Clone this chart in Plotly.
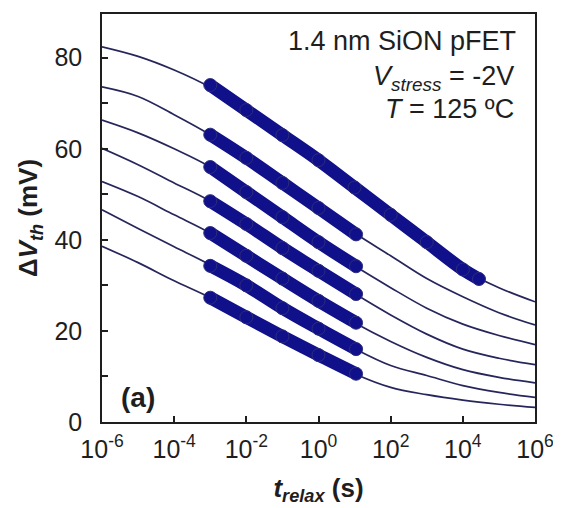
import plotly.graph_objects as go

# log10(t_relax) grid for the fitted curves
log_t = [-6, -5, -4, -3, -2, -1, 0, 1, 2, 3, 4, 5, 6]
fit1 = [82.4, 80.3, 77.3, 73.5, 68.5, 63.0, 57.5, 51.5, 45.5, 39.5, 33.5, 29.5, 26.4]
fit2 = [73.6, 71.5, 67.5, 63.1, 58.0, 52.5, 47.0, 41.5, 36.5, 31.5, 27.5, 24.0, 21.3]
fit3 = [66.3, 63.5, 60.0, 56.0, 50.5, 45.0, 39.5, 34.3, 29.5, 25.0, 21.5, 19.0, 17.0]
fit4 = [60.1, 56.5, 52.5, 48.5, 43.5, 38.2, 33.2, 28.2, 23.5, 19.3, 16.0, 14.0, 12.6]
fit5 = [52.8, 49.5, 45.5, 41.5, 36.5, 31.5, 26.6, 21.8, 17.7, 14.2, 11.5, 9.8, 8.6]
fit6 = [46.6, 42.5, 38.5, 34.5, 30.0, 25.0, 20.5, 16.1, 12.4, 10.2, 8.0, 6.5, 5.4]
fit7 = [38.6, 35.0, 31.0, 27.3, 23.0, 18.8, 14.7, 10.6, 7.6, 6.0, 4.8, 3.9, 3.2]
fits = [fit1, fit2, fit3, fit4, fit5, fit6, fit7]

# measured data (band of dense circles)
t_data_long = [1e-3, 1e-2, 1e-1, 1, 10, 100, 1000, 1e4, 2.8e4]
meas1 = [74.0, 68.5, 63.0, 57.5, 51.5, 45.5, 39.5, 33.5, 31.4]
t_data = [1e-3, 1e-2, 1e-1, 1, 11]
meas2 = [63.1, 58.0, 52.5, 47.0, 41.2]
meas3 = [56.0, 50.5, 45.0, 39.5, 34.2]
meas4 = [48.5, 43.5, 38.2, 33.2, 28.1]
meas5 = [41.5, 36.5, 31.5, 26.6, 21.8]
meas6 = [34.3, 30.0, 25.0, 20.5, 16.0]
meas7 = [27.3, 23.0, 18.8, 14.7, 10.6]
meas_short = [meas2, meas3, meas4, meas5, meas6, meas7]

x_tickvals = [1e-6, 1e-4, 1e-2, 1, 1e2, 1e4, 1e6]
x_ticktext = ["10<sup>-6</sup>", "10<sup>-4</sup>", "10<sup>-2</sup>", "10<sup>0</sup>",
              "10<sup>2</sup>", "10<sup>4</sup>", "10<sup>6</sup>"]
y_tickvals = [0, 20, 40, 60, 80]
y_minor = [10, 30, 50, 70]

BAND = "rgb(16,16,138)"
LINE = "rgb(38,38,92)"
INK = "#1e1e1e"

fig = go.Figure()
t_fit = [10 ** v for v in log_t]
for f in fits:
    fig.add_trace(go.Scatter(x=t_fit, y=f, mode="lines",
                             line=dict(color=LINE, width=1.7, shape="spline"),
                             showlegend=False, hoverinfo="skip"))

mk = dict(size=13, color=BAND, line=dict(color="rgb(45,45,125)", width=1))
fig.add_trace(go.Scatter(x=t_data_long, y=meas1, mode="lines+markers",
                         line=dict(color=BAND, width=13, shape="spline"),
                         marker=mk, showlegend=False))
for m in meas_short:
    fig.add_trace(go.Scatter(x=t_data, y=m, mode="lines+markers",
                             line=dict(color=BAND, width=13, shape="spline"),
                             marker=mk, showlegend=False))

FONT = "Liberation Sans, Arial, sans-serif"
# page body has an 8px margin; figure is shrunk/offset to keep the plot frame at the reference position
fig.update_layout(
    width=553, height=500,
    margin=dict(l=94, r=26, t=4, b=86),
    plot_bgcolor="white", paper_bgcolor="white",
    font=dict(family=FONT, color=INK, size=24),
    xaxis=dict(type="log", range=[-6, 6], tickvals=x_tickvals, ticktext=x_ticktext,
               ticks="inside", ticklen=6, tickwidth=1.5, tickcolor=INK,
               showline=True, linecolor=INK, linewidth=1.5, mirror=True,
               showgrid=False, zeroline=False, tickfont=dict(size=25),
               ticklabelstandoff=4,
               title=dict(text="<b><i>t</i><sub><i>relax</i></sub> (s)</b>", font=dict(size=26), standoff=17)),
    yaxis=dict(range=[0, 89.6], tickvals=y_tickvals,
               ticks="inside", ticklen=6, tickwidth=1.5, tickcolor=INK,
               minor=dict(tickvals=y_minor, ticks="inside", ticklen=6, tickwidth=1.5, tickcolor=INK),
               showline=True, linecolor=INK, linewidth=1.5, mirror=True,
               showgrid=False, zeroline=False, tickfont=dict(size=25),
               ticklabelstandoff=13,
               title=dict(text="<b>Δ<i>V</i><sub><i>th</i></sub> (mV)</b>", font=dict(size=26), standoff=9)),
)

fig.add_annotation(xref="paper", yref="paper", x=0.96, y=0.934, xanchor="right", yanchor="middle",
                   text="1.4 nm SiON pFET", showarrow=False, font=dict(size=27))
fig.add_annotation(xref="paper", yref="paper", x=0.955, y=0.842, xanchor="right", yanchor="middle",
                   text="<i>V</i><sub><i>stress</i></sub> = -2V", showarrow=False, font=dict(size=27))
fig.add_annotation(xref="paper", yref="paper", x=0.955, y=0.768, xanchor="right", yanchor="middle",
                   text="<i>T</i> = 125 ºC", showarrow=False, font=dict(size=27))
fig.add_annotation(xref="paper", yref="paper", x=0.04, y=0.06, xanchor="left", yanchor="middle",
                   text="<b>(a)</b>", showarrow=False, font=dict(size=28))

fig.write_html("out.html")
